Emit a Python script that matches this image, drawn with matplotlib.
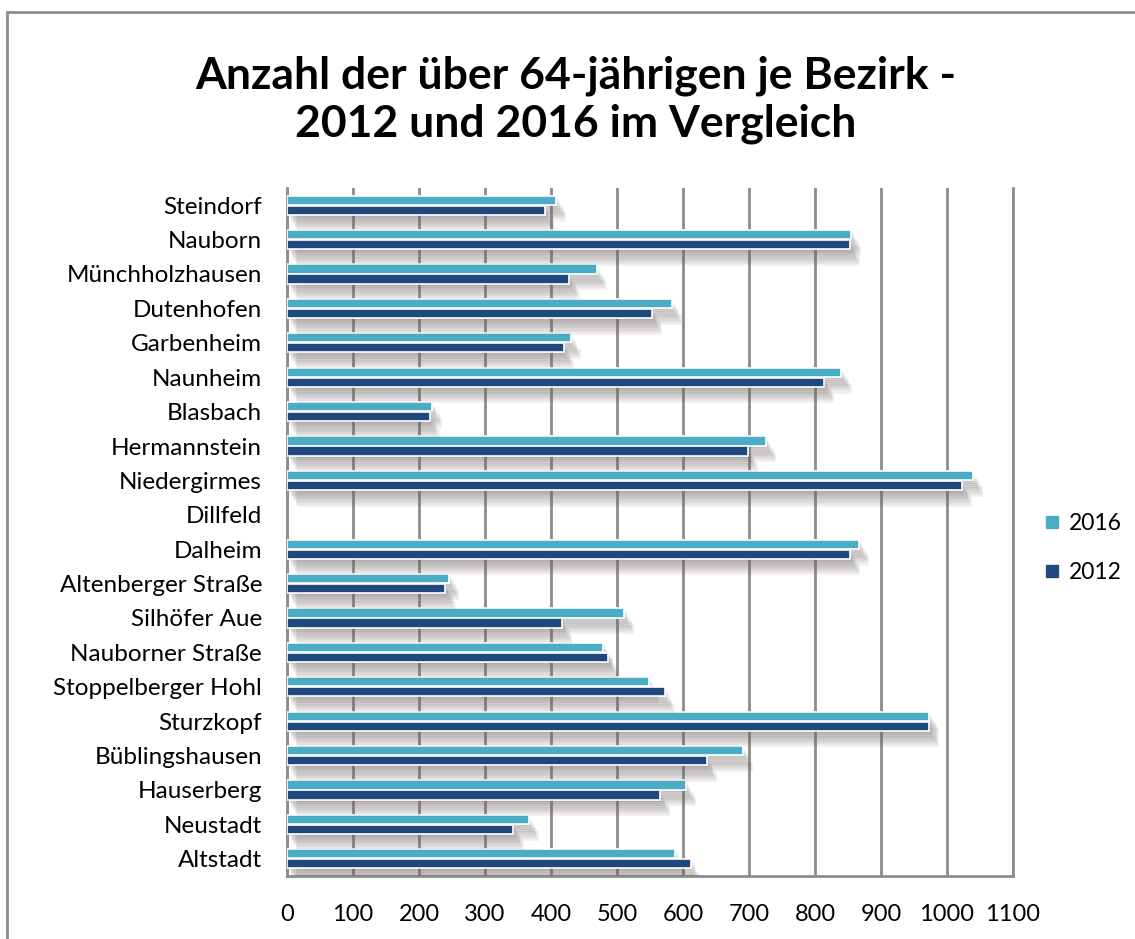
import matplotlib
matplotlib.use("Agg")
import matplotlib.pyplot as plt
import matplotlib.patches as mpatches
import matplotlib.patheffects as pe
from matplotlib.lines import Line2D
import numpy as np

plt.rcParams['font.family'] = ['Lato', 'DejaVu Sans']

# Districts from bottom to top (as drawn on the y axis)
bezirke = ["Altstadt", "Neustadt", "Hauserberg", "Büblingshausen", "Sturzkopf",
           "Stoppelberger Hohl", "Nauborner Straße", "Silhöfer Aue",
           "Altenberger Straße", "Dalheim", "Dillfeld", "Niedergirmes",
           "Hermannstein", "Blasbach", "Naunheim", "Garbenheim", "Dutenhofen",
           "Münchholzhausen", "Nauborn", "Steindorf"]

werte_2016 = [588, 366, 605, 691, 973, 549, 479, 511, 246, 867, 0, 1039,
              726, 220, 840, 430, 583, 469, 855, 408]
werte_2012 = [612, 343, 565, 636, 973, 572, 486, 417, 240, 853, 0, 1022,
              698, 216, 814, 419, 553, 428, 853, 391]

x_ticks = list(range(0, 1101, 100))

c2016 = "#4BACC6"
c2012 = "#1F497D"
gridcol = "#8C8C8C"

fig = plt.figure(figsize=(11.35, 9.39), dpi=100)
ax = fig.add_axes([287 / 1135, 1 - 876 / 939, 726 / 1135, 688 / 939])

# outer chart border
fig.add_artist(mpatches.Rectangle((7 / 1135, -0.1), 1.2, 1 - 12 / 939 + 0.1,
                                  transform=fig.transFigure, fill=False,
                                  edgecolor="#8C8C8C", linewidth=2))

y = np.arange(len(bezirke))
h = 0.27
off = 0.145

# soft drop shadow: several offset layers with low alpha
shadow = [pe.SimplePatchShadow(offset=(1.0 + 0.9 * k, -1.5 - 1.5 * k),
                               shadow_rgbFace="#6e625e", alpha=0.085)
          for k in range(8)] + [pe.Normal()]

b16 = ax.barh(y + off, werte_2016, height=h, color=c2016, edgecolor="white",
              linewidth=1.2, zorder=3)
b12 = ax.barh(y - off, werte_2012, height=h, color=c2012, edgecolor="white",
              linewidth=1.2, zorder=4)
for bars in (b16, b12):
    for p in bars:
        if p.get_width() > 0:
            p.set_path_effects(shadow)
        else:
            p.set_visible(False)

ax.set_xlim(0, 1100)
ax.set_ylim(-0.5, len(bezirke) - 0.5)
ax.set_xticks(x_ticks)
ax.set_xticklabels([str(v) for v in x_ticks], fontsize=17)
ax.set_yticks(y)
ax.set_yticklabels(bezirke, fontsize=17.5)
ax.tick_params(axis='y', length=0, pad=18)
ax.tick_params(axis='x', length=0, pad=20)

ax.grid(axis='x', color=gridcol, linewidth=2, zorder=1)
ax.set_axisbelow(True)
ax.spines['top'].set_visible(False)
for s in ['left', 'bottom', 'right']:
    ax.spines[s].set_color(gridcol)
    ax.spines[s].set_linewidth(2)

handles = [Line2D([], [], marker='s', linestyle='none', markersize=9,
                  color=c2016, label="2016"),
           Line2D([], [], marker='s', linestyle='none', markersize=9,
                  color=c2012, label="2012")]
fig.legend(handles=handles, loc='center left',
           bbox_to_anchor=(1022 / 1135, 1 - 548 / 939), frameon=False,
           fontsize=16.5, handlelength=0.8, handletextpad=0.35, labelspacing=1.25)

fig.text(576 / 1135, 1 - 100 / 939,
         "Anzahl der über 64-jährigen je Bezirk -\n2012 und 2016 im Vergleich",
         ha='center', va='center', fontsize=32, fontweight='bold',
         linespacing=1.22)

fig.savefig("out.png", dpi=100, facecolor="white")
